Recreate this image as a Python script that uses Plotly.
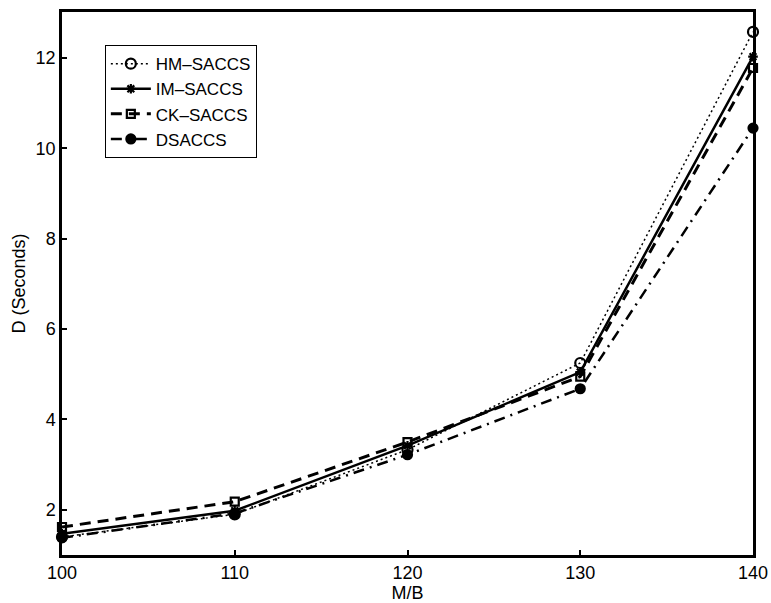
import plotly.graph_objects as go

mb = [100, 110, 120, 130, 140]
hm_saccs = [1.40, 1.90, 3.33, 5.25, 12.58]
im_saccs = [1.47, 1.98, 3.42, 5.05, 12.03]
ck_saccs = [1.62, 2.18, 3.50, 4.95, 11.78]
dsaccs = [1.38, 1.92, 3.22, 4.68, 10.45]

series = [
    ("HM\u2013SACCS", hm_saccs, "2px,3px", 1.5, "circle-open", 10),
    ("IM\u2013SACCS", im_saccs, "solid", 2.5, "asterisk-open", 8),
    ("CK\u2013SACCS", ck_saccs, "11px,7px", 3.0, "square-open", 8),
    ("DSACCS", dsaccs, "11px,6px,2px,6px", 2.5, "circle", 9),
]

fig = go.Figure()
for name, vals, dash, w, sym, sz in series:
    fig.add_trace(go.Scatter(
        x=mb, y=vals, name=name, mode="lines+markers",
        line=dict(color="black", width=w, dash=dash),
        marker=dict(symbol=sym, size=sz, color="black",
                    line=dict(color="black", width=2.2)),
        cliponaxis=False,
    ))

font = dict(family="Liberation Sans, Arial, sans-serif", size=18, color="black")
fig.update_layout(
    width=771, height=603,
    margin=dict(l=62, r=18, t=12, b=48),
    paper_bgcolor="white", plot_bgcolor="white",
    font=font,
    showlegend=True,
    legend=dict(x=0.062, y=0.939, xanchor="left", yanchor="top",
                bgcolor="white", bordercolor="black", borderwidth=1,
                font=dict(family="Liberation Sans, Arial, sans-serif", size=17),
                tracegroupgap=0, itemwidth=40),
)
fig.update_xaxes(
    range=[100, 140], tickvals=[100, 110, 120, 130, 140],
    showline=True, linecolor="black", linewidth=2.5, mirror=True,
    ticks="inside", ticklen=5, tickwidth=1.5, tickcolor="black",
    showgrid=False, zeroline=False, automargin=False,
    title=dict(text="M/B", standoff=2, font=font),
)
fig.update_yaxes(
    range=[1, 13.02], tickvals=[2, 4, 6, 8, 10, 12],
    showline=True, linecolor="black", linewidth=2.5, mirror=True,
    ticks="inside", ticklen=5, tickwidth=1.5, tickcolor="black",
    showgrid=False, zeroline=False, automargin=False,
    title=dict(text="D (Seconds)", standoff=6, font=font),
)

fig.write_html("out.html")
